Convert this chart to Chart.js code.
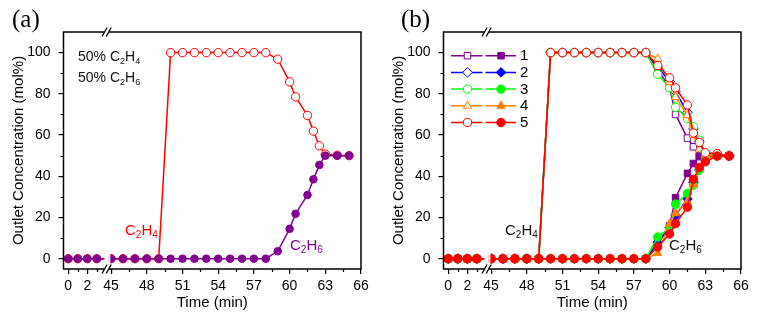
<!DOCTYPE html>
<html><head><meta charset="utf-8">
<script src="https://cdn.jsdelivr.net/npm/chart.js@4.4.1/dist/chart.umd.min.js"></script>
<style>
html,body{margin:0;padding:0;background:#fff;}
#wrap{display:flex;width:762px;height:323px;}
canvas{display:block;}
</style>
</head><body>
<div id="wrap"><canvas id="ca" width="380" height="323"></canvas><canvas id="cb" width="382" height="323"></canvas></div>
<script>
// ---------- data ----------
const timeA = [0,1,2,3,45,46,47,48,49,50,51,52,53,54,55,56,57,58,59,60,60.5,61.5,62,62.5,63,64,65];
const c2h4A = [0,0,0,0,0,0,0,0,0,100,100,100,100,100,100,100,100,100,96.8,85.8,78.5,69.5,61.9,54.8,50.7,50.2,50];
const c2h6A = [0,0,0,0,0,0,0,0,0,0,0,0,0,0,0,0,0,0,3.6,14.5,21.8,30.9,38.5,45.5,50,50,50];

const timeB = [0,1,2,3,45,46,47,48,49,50,51,52,53,54,55,56,57,58,59,60,60.5,61.5,62,62.5,63,64,65];
const runLabels = ['1','2','3','4','5'];
const c2h4B1 = [0,0,0,0,0,0,0,0,0,100,100,100,100,100,100,100,100,100,92,83,70,58.5,54.3,50,50,50,50];
const c2h4B2 = [0,0,0,0,0,0,0,0,0,100,100,100,100,100,100,100,100,100,93,86,81,71,63,57,51,50.5,50];
const c2h4B3 = [0,0,0,0,0,0,0,0,0,100,100,100,100,100,100,100,100,100,89.5,83,73.5,68,64,57.5,51,50,50];
const c2h4B4 = [0,0,0,0,0,0,0,0,0,100,100,100,100,100,100,100,100,100,97,85.7,78.4,69.6,60,53,50.5,50,50];
const c2h4B5 = [0,0,0,0,0,0,0,0,0,100,100,100,100,100,100,100,100,100,93.7,87.8,82.9,74.6,61,56.4,51.4,51,49.8];
const c2h6B1 = [0,0,0,0,0,0,0,0,0,0,0,0,0,0,0,0,0,0,7,16,29.6,41.4,46.2,49.5,50,50,50];
const c2h6B2 = [0,0,0,0,0,0,0,0,0,0,0,0,0,0,0,0,0,0,8,15,21,29,37,43,48,50,50];
const c2h6B3 = [0,0,0,0,0,0,0,0,0,0,0,0,0,0,0,0,0,0,10.5,15,26.5,31.7,35.7,43,48,50,50];
const c2h6B4 = [0,0,0,0,0,0,0,0,0,0,0,0,0,0,0,0,0,0,2.7,17,22,27.7,36,44,48,50,50];
const c2h6B5 = [0,0,0,0,0,0,0,0,0,0,0,0,0,0,0,0,0,0,5.7,12,17,25,38.6,44.3,47,49.8,49.8];

const xTickTimes = [0,2,45,48,51,54,57,60,63,66];
const xMinorTimes = [1,3,46.5,49.5,52.5,55.5,58.5,61.5,64.5];
const yTicks = [0,20,40,60,80,100];
const yMinor = [10,30,50,70,90];

// ---------- broken axis mapping ----------
const SEG1_START = 41.4, SEG1_K = 0.8, BREAK_T = 45;
function u(t){ return t < BREAK_T ? SEG1_START + SEG1_K * t : t; }
const X_MIN = 41.0, X_MAX = 66, Y_MIN = -5, Y_MAX = 110;
const BREAK_U1 = 44.45, BREAK_U2 = 44.8;

const PURPLE = '#800090', BLUE = '#0000ff', GREEN = '#00ff00', ORANGE = '#ff8000', RED = '#ff0000';
const runColors = [PURPLE, BLUE, GREEN, ORANGE, RED];
const runStyles = ['rect','rectRot','circle','triangle','circle'];
const runRadius = [4.6,4.8,4.2,4.8,4.2];

function pts(times, vals){ return times.map((t,i)=>({x:u(t), y:vals[i]})); }

// ---------- helpers ----------
function drawFormula(ctx, parts, x, y, size, color){
  ctx.save();
  ctx.fillStyle = color; ctx.textBaseline = 'middle'; ctx.textAlign = 'left';
  let cx = x;
  for (const [txt, sub] of parts){
    const fs = sub ? Math.round(size*0.66) : size;
    ctx.font = fs + 'px "Liberation Sans", Arial, sans-serif';
    ctx.fillText(txt, cx, sub ? y + size*0.3 : y);
    cx += ctx.measureText(txt).width;
  }
  ctx.restore();
}

function panelPlugin(cfg){
  return {
    id: 'panel_' + cfg.name,
    afterDatasetsDraw(chart){
      const ctx = chart.ctx, a = chart.chartArea;
      const xs = chart.scales.x, ys = chart.scales.y;
      ctx.save();
      // frame
      ctx.strokeStyle = '#000'; ctx.lineWidth = 1.5;
      ctx.strokeRect(a.left, a.top, a.right - a.left, a.bottom - a.top);
      // minor ticks
      ctx.lineWidth = 1.2;
      ctx.beginPath();
      for (const v of yMinor){ const py = Math.round(ys.getPixelForValue(v)) + 0.5; ctx.moveTo(a.left, py); ctx.lineTo(a.left - 3, py); }
      for (const t of xMinorTimes){ const px = Math.round(xs.getPixelForValue(u(t))) + 0.5; ctx.moveTo(px, a.bottom); ctx.lineTo(px, a.bottom + 3); }
      ctx.stroke();
      // axis break
      const b1 = xs.getPixelForValue(BREAK_U1), b2 = xs.getPixelForValue(BREAK_U2);
      ctx.fillStyle = '#fff';
      ctx.fillRect(b1, a.top - 2, b2 - b1, a.bottom - a.top + 4);
      ctx.fillRect(b2, a.top + 2, 1.6, a.bottom - a.top - 4);
      ctx.strokeStyle = '#000'; ctx.lineWidth = 1.3;
      ctx.beginPath();
      for (const yy of [a.top, a.bottom]){
        for (const xx of [b1, b2]){ ctx.moveTo(xx - 2.5, yy + 4.5); ctx.lineTo(xx + 2.5, yy - 4.5); }
      }
      ctx.stroke();
      // panel letter
      ctx.fillStyle = '#000';
      ctx.font = '25px "Liberation Serif", "Times New Roman", serif';
      ctx.textBaseline = 'middle'; ctx.textAlign = 'left';
      ctx.fillText(cfg.letter, cfg.letterX, 20);
      ctx.restore();
      if (cfg.draw) cfg.draw(chart, ctx);
    }
  };
}

function makeOptions(rightPad){
  const font = {family: '"Liberation Sans", Arial, sans-serif', size: 14};
  return {
    responsive: false, animation: false, devicePixelRatio: 1,
    layout: {padding: {top: 32, right: rightPad, left: 0, bottom: 0}},
    plugins: {legend: {display: false}, tooltip: {enabled: false}},
    elements: {line: {tension: 0}},
    scales: {
      x: {
        type: 'linear', min: X_MIN, max: X_MAX,
        afterBuildTicks: s => { s.ticks = xTickTimes.map(t => ({value: u(t)})); },
        afterFit: s => { s.height = 54; },
        ticks: {autoSkip: false, maxRotation: 0, color: '#000', font, padding: 4,
          callback: (v, i) => String(xTickTimes[i])},
        grid: {drawOnChartArea: false, tickLength: 5, color: '#000', lineWidth: 1.2},
        border: {display: false},
        title: {display: true, text: 'Time (min)', color: '#000', font: {family: font.family, size: 15}, padding: {top: 0, bottom: 11}}
      },
      y: {
        type: 'linear', min: Y_MIN, max: Y_MAX,
        afterBuildTicks: s => { s.ticks = yTicks.map(v => ({value: v})); },
        afterFit: s => { s.width = 63.5; },
        ticks: {autoSkip: false, color: '#000', font, padding: 8},
        grid: {drawOnChartArea: false, tickLength: 5, color: '#000', lineWidth: 1.2},
        border: {display: false},
        title: {display: true, text: 'Outlet Concentration (mol%)', color: '#000', font: {family: font.family, size: 15}, padding: {top: 10, bottom: 0}}
      }
    }
  };
}

// ---------- panel (a) ----------
new Chart(document.getElementById('ca'), {
  type: 'line',
  data: {datasets: [
    {label: 'C2H6', data: pts(timeA, c2h6A), borderColor: PURPLE, backgroundColor: PURPLE,
     pointBackgroundColor: PURPLE, pointBorderColor: PURPLE, pointRadius: 3.8, pointBorderWidth: 1, borderWidth: 1.5},
    {label: 'C2H4', data: pts(timeA, c2h4A), borderColor: RED, backgroundColor: '#fff',
     pointBackgroundColor: '#fff', pointBorderColor: RED, pointRadius: 4.2, pointBorderWidth: 1, borderWidth: 1.5}
  ]},
  options: makeOptions(19),
  plugins: [panelPlugin({name: 'a', letter: '(a)', letterX: 12, draw: (chart, ctx) => {
    drawFormula(ctx, [['50% C',0],['2',1],['H',0],['4',1]], 78, 57.5, 14, '#111');
    drawFormula(ctx, [['50% C',0],['2',1],['H',0],['6',1]], 78, 78.5, 14, '#111');
    drawFormula(ctx, [['C',0],['2',1],['H',0],['4',1]], 125, 230.5, 15, RED);
    drawFormula(ctx, [['C',0],['2',1],['H',0],['6',1]], 290, 246, 15, PURPLE);
  }})]
});

// ---------- panel (b) ----------
const openB = [c2h4B1, c2h4B2, c2h4B3, c2h4B4, c2h4B5];
const fillB = [c2h6B1, c2h6B2, c2h6B3, c2h6B4, c2h6B5];
const dsB = [];
for (let k = 4; k >= 0; k--){
  dsB.push({label: runLabels[k] + ' C2H6', data: pts(timeB, fillB[k]), borderColor: runColors[k], backgroundColor: runColors[k],
    pointBackgroundColor: runColors[k], pointBorderColor: runColors[k], pointStyle: runStyles[k], pointRadius: runRadius[k], pointBorderWidth: 1, borderWidth: 1.5});
  dsB.push({label: runLabels[k] + ' C2H4', data: pts(timeB, openB[k]), borderColor: runColors[k], backgroundColor: '#fff',
    pointBackgroundColor: '#fff', pointBorderColor: runColors[k], pointStyle: runStyles[k], pointRadius: runRadius[k], pointBorderWidth: 1, borderWidth: 1.5});
}

function drawMarker(ctx, style, r, x, y, fill, stroke){
  ctx.save();
  ctx.fillStyle = fill; ctx.strokeStyle = stroke; ctx.lineWidth = 1;
  if (window.Chart && Chart.helpers && Chart.helpers.drawPoint){
    Chart.helpers.drawPoint(ctx, {pointStyle: style, radius: r, rotation: 0, borderWidth: 1}, x, y);
  } else {
    ctx.beginPath(); ctx.arc(x, y, r, 0, Math.PI*2); ctx.fill(); ctx.stroke();
  }
  ctx.restore();
}

new Chart(document.getElementById('cb'), {
  type: 'line',
  data: {datasets: dsB},
  options: makeOptions(21),
  plugins: [panelPlugin({name: 'b', letter: '(b)', letterX: 21, draw: (chart, ctx) => {
    for (let k = 0; k < 5; k++){
      const y = 55.7 + k * 16.7;
      ctx.save();
      ctx.strokeStyle = runColors[k]; ctx.lineWidth = 1.5;
      ctx.beginPath(); ctx.moveTo(71, y); ctx.lineTo(102.5, y); ctx.moveTo(105.5, y); ctx.lineTo(136, y); ctx.stroke();
      ctx.restore();
      drawMarker(ctx, runStyles[k], runRadius[k], 87.5, y, '#fff', runColors[k]);
      drawMarker(ctx, runStyles[k], runRadius[k], 121, y, runColors[k], runColors[k]);
      ctx.save();
      ctx.fillStyle = '#000'; ctx.font = '15px "Liberation Sans", Arial, sans-serif';
      ctx.textBaseline = 'middle'; ctx.textAlign = 'left';
      ctx.fillText(runLabels[k], 140, y + 0.5);
      ctx.restore();
    }
    drawFormula(ctx, [['C',0],['2',1],['H',0],['4',1]], 125, 231, 15, '#111');
    drawFormula(ctx, [['C',0],['2',1],['H',0],['6',1]], 289, 246, 15, '#111');
  }})]
});
</script>
</body></html>
